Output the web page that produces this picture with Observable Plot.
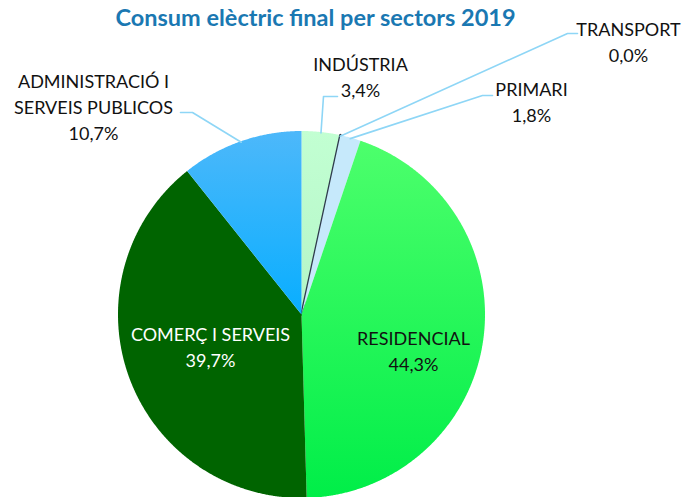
<!DOCTYPE html>
<html><head><meta charset="utf-8">
<script src="https://cdn.jsdelivr.net/npm/d3@7"></script>
<script src="https://cdn.jsdelivr.net/npm/@observablehq/plot@0.6"></script>
<style>body{margin:0;background:#fff;font-family:Lato,sans-serif}</style>
</head><body><div id="chart"></div>
<script>
// ---- data ----
const title = "Consum elèctric final per sectors 2019";
const sectors = ["INDÚSTRIA", "TRANSPORT", "PRIMARI", "RESIDENCIAL", "COMERÇ I SERVEIS", "ADMINISTRACIÓ I SERVEIS PUBLICOS"];
const shares = [3.4, 0.0, 1.8, 44.3, 39.7, 10.7];
const pctLabels = ["3,4%", "0,0%", "1,8%", "44,3%", "39,7%", "10,7%"];

// ---- layout / style ----
const W = 687, H = 497;
const cx = 301, cy = 314, R = 183.5;
const fills = ["url(#gInd)", "#2F3B4C", "#C6E9FB", "url(#gRes)", "#006400", "url(#gAdm)"];
const textColors = ["#111", "#111", "#111", "#111", "#fff", "#111"];
const nameLines = ["INDÚSTRIA", "TRANSPORT", "PRIMARI", "RESIDENCIAL", "COMERÇ I SERVEIS", "ADMINISTRACIÓ I\nSERVEIS PUBLICOS"];
const labelPos = [[360, 75], [628, 40], [531, 100], [413, 349], [210, 345], [93, 105]];
const elbows = [[[323, 96], [337, 96]], [[567, 33], [577, 33]], [[482, 95], [492, 95]], null, null, [[192, 112], [180, 112]]];
const leaderColor = "#8ED6F6";

const rows = sectors.map((s, i) => ({sector: s, share: shares[i], pct: pctLabels[i], i}));
const arcs = d3.pie().sort(null).value(d => d.share)(rows);

const pt = (a, r = R) => ({x: cx + r * Math.sin(a), y: cy - r * Math.cos(a)});

const sliceMarks = arcs.map(a => {
  const pts = [{x: cx, y: cy}];
  const n = Math.max(1, Math.ceil((a.endAngle - a.startAngle) / 0.005));
  for (let k = 0; k <= n; k++) pts.push(pt(a.startAngle + (a.endAngle - a.startAngle) * k / n));
  pts.push({x: cx, y: cy});
  const i = a.data.i;
  if (a.data.share === 0) {
    return Plot.line(pts, {x: "x", y: "y", stroke: fills[i], strokeWidth: 2.6, curve: "linear"});
  }
  return Plot.line(pts, {x: "x", y: "y", fill: fills[i], stroke: "none", curve: "linear"});
});

const leaderMarks = arcs.map(a => {
  const i = a.data.i;
  if (!elbows[i]) return null;
  const mid = (a.startAngle + a.endAngle) / 2;
  const pts = [pt(mid, R - 1), {x: elbows[i][0][0], y: elbows[i][0][1]}, {x: elbows[i][1][0], y: elbows[i][1][1]}];
  return Plot.line(pts, {x: "x", y: "y", stroke: leaderColor, strokeWidth: 1.6});
}).filter(Boolean);

const labels = rows.map(d => ({
  x: labelPos[d.i][0], y: labelPos[d.i][1],
  text: nameLines[d.i] + "\n" + d.pct, color: textColors[d.i]
}));

const defs = () => {
  const svg = d3.create("svg:defs");
  const grad = (id, c0, c1) => {
    const g = svg.append("linearGradient").attr("id", id).attr("x1", 0).attr("y1", 0).attr("x2", 0).attr("y2", 1);
    g.append("stop").attr("offset", "0%").attr("stop-color", c0);
    g.append("stop").attr("offset", "100%").attr("stop-color", c1);
  };
  grad("gRes", "#4DFF6C", "#00EE48");
  grad("gAdm", "#4DB8FA", "#08AEFF");
  grad("gInd", "#C2FFD2", "#B4F5C8");
  return svg.node();
};

const chart = Plot.plot({
  width: W, height: H,
  margin: 0,
  x: {domain: [0, W], range: [0, W], axis: null},
  y: {domain: [0, H], range: [0, H], axis: null},
  style: {fontFamily: "Lato, sans-serif", background: "#fff"},
  marks: [
    defs,
    ...sliceMarks,
    ...leaderMarks,
    Plot.text(labels, {x: "x", y: "y", text: "text", fill: "color", fontSize: 18, lineHeight: 1.45, textAnchor: "middle"}),
    Plot.text([title], {x: () => 315, y: () => 18, text: d => d, fill: "#1A78B2", fontSize: 23.5, fontWeight: "bold", textAnchor: "middle"})
  ]
});
document.getElementById("chart").append(chart);
</script>
</body></html>
